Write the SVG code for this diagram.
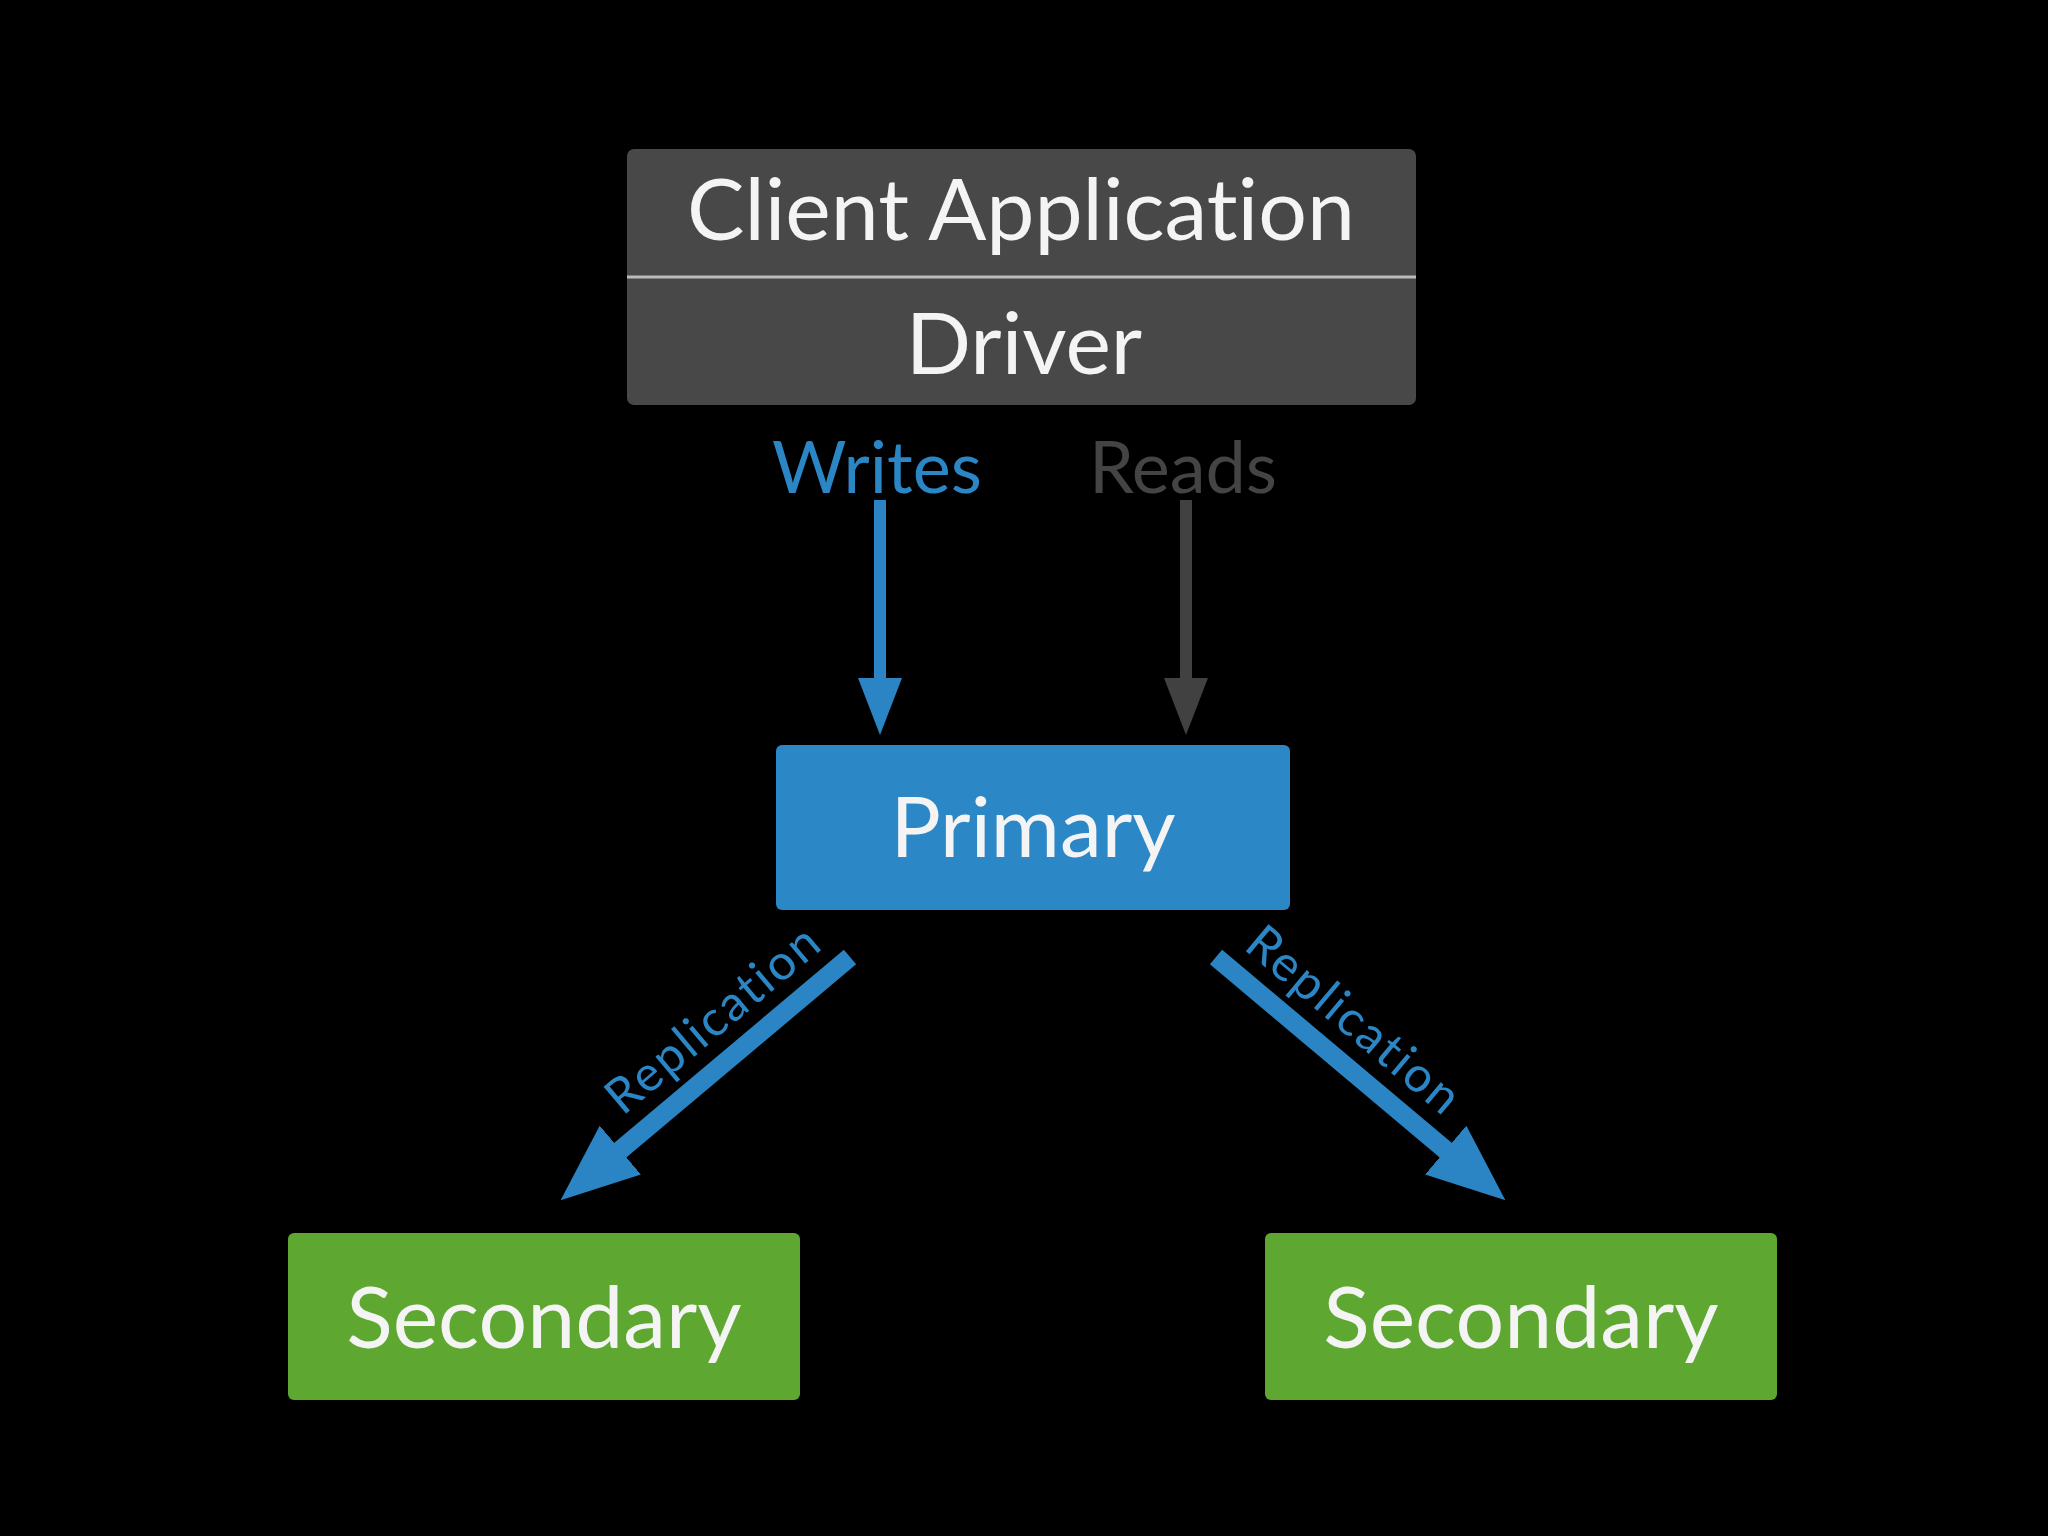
<svg xmlns="http://www.w3.org/2000/svg" width="2048" height="1536" viewBox="0 0 2048 1536">
  <defs>
    <style>
      text { font-variant-ligatures: none; font-feature-settings: "liga" 0, "clig" 0; }
      .lbl { font-family: Lato, "Liberation Sans", sans-serif; fill: #f4f4f4; text-anchor: middle; }
      .big { font-size: 86px; }
      .edge { font-family: Lato, "Liberation Sans", sans-serif; text-anchor: middle; }
      .blue { fill: #2b86c6; }
      .grey { fill: #444444; }
    </style>
    <marker id="hw" markerUnits="userSpaceOnUse" viewBox="0 0 57 44" refX="22" refY="22" markerWidth="57" markerHeight="44" orient="auto">
      <path d="M0,0 L57,22 L0,44 z" fill="#2b84c4"/>
    </marker>
    <marker id="hr" markerUnits="userSpaceOnUse" viewBox="0 0 57 44" refX="22" refY="22" markerWidth="57" markerHeight="44" orient="auto">
      <path d="M0,0 L57,22 L0,44 z" fill="#414141"/>
    </marker>
    <marker id="hrep" markerUnits="userSpaceOnUse" viewBox="0 0 78 64" refX="20" refY="32" markerWidth="78" markerHeight="64" orient="auto">
      <path d="M0,0 L78,32 L0,64 z" fill="#2b84c4"/>
    </marker>
  </defs>
  <rect width="2048" height="1536" fill="#000000"/>

  <g id="client">
    <rect x="627" y="149" width="789" height="256" rx="7" fill="#484848"/>
    <line x1="627" y1="277" x2="1416" y2="277" stroke="#bcbcbc" stroke-width="3"/>
    <text class="lbl big" x="1021" y="240">Client Application</text>
    <text class="lbl big" x="1024" y="374">Driver</text>
  </g>

  <g id="primary">
    <rect x="776" y="745" width="514" height="165" rx="6" fill="#2b87c5"/>
    <text class="lbl" x="1033" y="857" font-size="84">Primary</text>
  </g>

  <g id="secondary-left">
    <rect x="288" y="1233" width="512" height="167" rx="6" fill="#5ea832"/>
    <text class="lbl big" x="544" y="1348">Secondary</text>
  </g>

  <g id="secondary-right">
    <rect x="1265" y="1233" width="512" height="167" rx="6" fill="#5ea832"/>
    <text class="lbl big" x="1521" y="1348">Secondary</text>
  </g>

  <g id="connectors">
    <line x1="880" y1="500" x2="880" y2="700" stroke="#2b84c4" stroke-width="12" marker-end="url(#hw)"/>
    <text class="edge blue" x="877" y="493" font-size="72">Writes</text>
    <line x1="1186" y1="500" x2="1186" y2="700" stroke="#414141" stroke-width="12" marker-end="url(#hr)"/>
    <text class="edge grey" x="1183" y="493" font-size="72">Reads</text>

    <line x1="850" y1="957" x2="605" y2="1163" stroke="#2b84c4" stroke-width="19" marker-end="url(#hrep)"/>
    <g transform="translate(738,1050) rotate(-40)">
      <text class="edge blue" x="0" y="-23" font-size="49" textLength="262" lengthAdjust="spacing">Replication</text>
    </g>
    <line x1="1216" y1="957" x2="1461" y2="1163" stroke="#2b84c4" stroke-width="19" marker-end="url(#hrep)"/>
    <g transform="translate(1328,1050) rotate(40)">
      <text class="edge blue" x="0" y="-23" font-size="49" textLength="262" lengthAdjust="spacing">Replication</text>
    </g>
  </g>
</svg>
